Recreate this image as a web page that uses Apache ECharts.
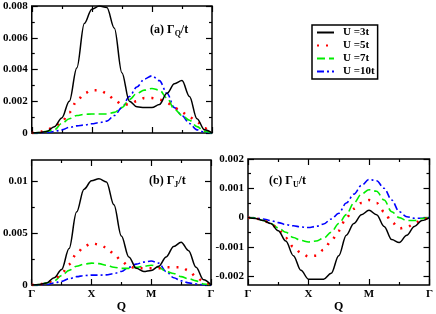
<!DOCTYPE html>
<html><head><meta charset="utf-8">
<script src="https://cdn.jsdelivr.net/npm/echarts@6/dist/echarts.min.js"></script>
<style>html,body{margin:0;padding:0;background:#fff}#c{width:436px;height:314px}</style>
</head><body><div id="c"></div>
<script>
// path coordinate along Γ-X-M-Γ
const qPoints = [0,0.125,0.25,0.375,0.5,0.625,0.75,0.875,1,1.125,1.25,1.375,1.5,1.625,1.75,1.875,2,2.125,2.25,2.375,2.5,2.625,2.75,2.875,3];
const seriesNames = ['U =3t','U =5t','U =7t','U =10t'];
// panel (a) Γ_Q/t
const aU3  = [0,0.00003,0.0001,0.0004,0.00095,0.002,0.0041,0.0069,0.0078,0.0080,0.0079,0.0066,0.0038,0.002,0.00165,0.0016,0.0016,0.0018,0.0025,0.0031,0.0033,0.0023,0.0009,0.0002,0];
const aU5  = [0,0.00005,0.0002,0.0004,0.0007,0.0013,0.002,0.0025,0.0027,0.0027,0.0025,0.0021,0.0018,0.0018,0.002,0.0022,0.0022,0.0021,0.0019,0.0016,0.0013,0.001,0.0007,0.0003,0];
const aU7  = [0,0.00003,0.0001,0.0002,0.0006,0.0009,0.0011,0.00118,0.0012,0.0012,0.0012,0.0013,0.0016,0.0021,0.0025,0.0027,0.0028,0.0027,0.0022,0.0015,0.0011,0.0008,0.0004,0.0001,0];
const aU10 = [0,0.00001,0.00003,0.0001,0.0002,0.00035,0.00045,0.0005,0.00058,0.00065,0.00075,0.0011,0.0016,0.0023,0.0029,0.0034,0.0036,0.0033,0.0025,0.0016,0.0011,0.0006,0.0002,0.00005,0];
// panel (b) Γ_J/t
const bU3  = [0,0.00005,0.0002,0.0007,0.0015,0.0035,0.007,0.0092,0.0100,0.0102,0.0099,0.0077,0.0047,0.0027,0.0016,0.0013,0.0014,0.0018,0.0027,0.0037,0.0041,0.0033,0.0017,0.0005,0];
const bU5  = [0,0.00005,0.0002,0.0005,0.0011,0.002,0.003,0.0037,0.004,0.0039,0.0036,0.003,0.0023,0.0018,0.0016,0.0016,0.0016,0.0016,0.0017,0.0017,0.0017,0.0014,0.0008,0.0003,0];
const bU7  = [0,0.00005,0.0002,0.0004,0.0009,0.0014,0.0018,0.002,0.0021,0.00205,0.0019,0.0017,0.0016,0.0016,0.0017,0.0018,0.0019,0.0017,0.0013,0.0011,0.0008,0.0006,0.0004,0.0001,0];
const bU10 = [0,0.00001,0.00005,0.0002,0.00035,0.0006,0.0008,0.0009,0.00095,0.00095,0.00097,0.0011,0.0013,0.0017,0.002,0.0022,0.0023,0.0021,0.0013,0.0007,0.0004,0.0002,0.0001,0.00002,0];
// panel (c) Γ_U/t
const cU3  = [0,-0.00003,-0.0001,-0.0002,-0.00045,-0.0008,-0.0013,-0.0018,-0.0021,-0.0021,-0.0021,-0.0019,-0.0013,-0.0006,-0.0002,0.0001,0.00025,0.0001,-0.0003,-0.00075,-0.00085,-0.0006,-0.0003,-0.0001,0];
const cU5  = [0,-0.00003,-0.0001,-0.0002,-0.0004,-0.0007,-0.001,-0.0012,-0.00133,-0.0013,-0.0011,-0.0008,-0.00045,0,0.0003,0.0005,0.0006,0.0005,0.0002,-0.00015,-0.00037,-0.00033,-0.0002,-0.00007,0];
const cU7  = [0,-0.00002,-0.0001,-0.0002,-0.00035,-0.0005,-0.00068,-0.00078,-0.00083,-0.0008,-0.0007,-0.0005,-0.0002,0.0001,0.0005,0.0008,0.00095,0.0009,0.0006,0.0002,0,-0.0001,-0.0001,-0.00003,0];
const cU10 = [0,-0.00001,-0.00005,-0.0001,-0.00017,-0.00024,-0.00028,-0.00032,-0.00034,-0.0003,-0.00022,-0.00005,0.00015,0.0005,0.0008,0.0011,0.0013,0.00126,0.001,0.0006,0.0002,0.00003,-0.00002,-0.00002,0];
// ticks
const xTickValues = [0,1,2,3];
const xTickLabels = ['Γ','X','M','Γ'];
const xMinorValues = [0.5,1.5,2.5];
const yTicksA = [0,0.002,0.004,0.006,0.008];
const yLabelsA = ['0','0.002','0.004','0.006','0.008'];
const yMinorA = [0.001,0.003,0.005,0.007];
const yTicksB = [0,0.005,0.01];
const yLabelsB = ['0','0.005','0.01'];
const yMinorB = [0.0025,0.0075];
const yTicksC = [-0.002,-0.001,0,0.001,0.002];
const yLabelsC = ['-0.002','-0.001','0','0.001','0.002'];
const yMinorC = [-0.0015,-0.0005,0.0005,0.0015];

const FONT = 'Liberation Serif';
const colors = ['#000000','#ff0000','#00ee00','#0000ff'];
const lineStyles = [
  {width:1.5, type:'solid'},
  {width:2.5, type:[2,7]},
  {width:1.6, type:[8,4]},
  {width:1.6, type:[7,3,2,3]}
];

const grids = [
  {left:30, top:6, width:182, height:127},
  {left:30, top:160, width:181, height:127},
  {left:248, top:159, width:184, height:128}
].map(g => Object.assign({show:true, borderColor:'#000', borderWidth:1.5, backgroundColor:'transparent'}, g));

const xAxes = [], yAxes = [];
function mkAxis(list, gridIndex, pos, min, max, values, len, labels, name) {
  const ax = {
    type:'value', gridIndex, position:pos, min, max,
    axisLine:{show:false, onZero:false}, splitLine:{show:false},
    axisTick:{show:true, inside:true, length:len, customValues:values, lineStyle:{color:'#000', width:1.2}},
    axisLabel:{show:!!labels}
  };
  if (labels) {
    ax.axisLabel = {show:true, customValues:values, margin:4, color:'#000', fontFamily:FONT, fontWeight:'bold', fontSize:11,
      formatter: v => { const i = values.findIndex(t => Math.abs(t - v) < 1e-9); return i >= 0 ? labels[i] : ''; }};
  }
  if (name) {
    ax.name = name; ax.nameLocation = 'middle'; ax.nameGap = 16;
    ax.nameTextStyle = {color:'#000', fontFamily:FONT, fontWeight:'bold', fontSize:12};
  }
  list.push(ax);
  return list.length - 1;
}
const panels = [
  {y:[0,0.008], maj:yTicksA, lab:yLabelsA, min:yMinorA, xl:null, nm:null, data:[aU3,aU5,aU7,aU10]},
  {y:[0,0.012], maj:yTicksB, lab:yLabelsB, min:yMinorB, xl:xTickLabels, nm:'Q', data:[bU3,bU5,bU7,bU10]},
  {y:[-0.0023,0.002], maj:yTicksC, lab:yLabelsC, min:yMinorC, xl:xTickLabels, nm:'Q', data:[cU3,cU5,cU7,cU10]}
];
const series = [];
panels.forEach((p, gi) => {
  const xi = mkAxis(xAxes, gi, 'bottom', 0, 3, xTickValues, 6, p.xl, p.nm);
  mkAxis(xAxes, gi, 'bottom', 0, 3, xMinorValues, 3, null, null);
  mkAxis(xAxes, gi, 'top', 0, 3, xTickValues, 6, null, null);
  mkAxis(xAxes, gi, 'top', 0, 3, xMinorValues, 3, null, null);
  const yi = mkAxis(yAxes, gi, 'left', p.y[0], p.y[1], p.maj, 6, p.lab, null);
  mkAxis(yAxes, gi, 'left', p.y[0], p.y[1], p.min, 3, null, null);
  mkAxis(yAxes, gi, 'right', p.y[0], p.y[1], p.maj, 6, null, null);
  mkAxis(yAxes, gi, 'right', p.y[0], p.y[1], p.min, 3, null, null);
  p.data.forEach((arr, si) => {
    series.push({
      type:'line', name:seriesNames[si], xAxisIndex:xi, yAxisIndex:yi,
      data: qPoints.map((q, k) => [q, arr[k]]),
      showSymbol:false, symbol:'none', smooth:0.35, smoothMonotone:'x',
      lineStyle:Object.assign({color:colors[si]}, lineStyles[si]),
      itemStyle:{color:colors[si]}, z: 10 - si, animation:false
    });
  });
});

const chart = echarts.init(document.getElementById('c'), null, {renderer:'canvas'});
const rich = {n:{fontFamily:FONT, fontWeight:'bold', fontSize:12, lineHeight:16, fill:'#000'}, s:{fontFamily:FONT, fontWeight:'bold', fontSize:8, verticalAlign:'bottom', fill:'#000'}};
chart.setOption({
  animation:false,
  grid:grids, xAxis:xAxes, yAxis:yAxes, series,
  legend:{
    data:seriesNames, orient:'vertical', left:312, top:25,
    itemWidth:17, itemHeight:10, itemGap:2, padding:[2,3,2,4],
    itemStyle:{opacity:0},
    borderColor:'#000', borderWidth:1.5,
    textStyle:{color:'#000', fontFamily:FONT, fontWeight:'bold', fontSize:11, padding:[0,0,0,4]}
  },
  graphic:[
    {type:'text', left:150, top:24, style:{text:'{n|(a) Γ}{s|Q}{n|/t}', rich}},
    {type:'text', left:149, top:175, style:{text:'{n|(b) Γ}{s|J}{n|/t}', rich}},
    {type:'text', left:269, top:175, style:{text:'{n|(c) Γ}{s|U}{n|/t}', rich}}
  ]
});
</script></body></html>
